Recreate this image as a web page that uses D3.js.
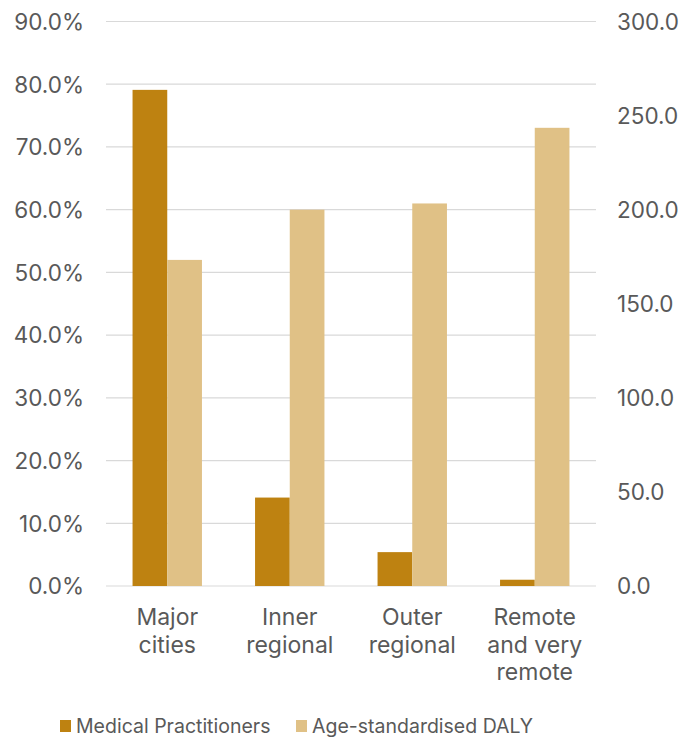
<!DOCTYPE html>
<html>
<head>
<meta charset="utf-8">
<script src="https://cdn.jsdelivr.net/npm/d3@7"></script>
<style>
  body { margin: 0; background: #fff; }
  text { font-family: Inter, "Liberation Sans", sans-serif; fill: #595959; }
</style>
</head>
<body>
<svg width="699" height="737"></svg>
<script>
const categories = [['Major', 'cities'], ['Inner', 'regional'], ['Outer', 'regional'], ['Remote', 'and very', 'remote']]
const practitioners = [0.791, 0.141, 0.054, 0.010]
const daly = [173.3, 200.0, 203.3, 243.5]
const seriesNames = ['Medical Practitioners', 'Age-standardised DALY']
const colors = ['#BE8211', '#E0C186']

const svg = d3.select('svg')
const x0 = 106, x1 = 596, yTop = 21.5, yBottom = 586

const x = d3.scaleBand().domain(d3.range(categories.length)).range([x0, x1])
const yLeft = d3.scaleLinear().domain([0, 0.9]).range([yBottom, yTop])
const yRight = d3.scaleLinear().domain([0, 300]).range([yBottom, yTop])

// gridlines
svg.append('g')
  .selectAll('line')
  .data(yLeft.ticks(9))
  .join('line')
  .attr('x1', x0).attr('x2', x1)
  .attr('y1', d => yLeft(d)).attr('y2', d => yLeft(d))
  .attr('stroke', '#d9d9d9').attr('stroke-width', 1.2)

// left axis
const leftAxis = svg.append('g')
  .attr('transform', `translate(${x0 - 22},0)`)
  .call(d3.axisLeft(yLeft).tickValues(d3.range(0, 0.91, 0.1)).tickFormat(d3.format('.1%')).tickSize(0).tickPadding(0))
leftAxis.select('.domain').remove()
leftAxis.selectAll('text').attr('font-size', 22.5).attr('fill', '#595959').attr('dy', '0.35em')

// right axis
const rightAxis = svg.append('g')
  .attr('transform', `translate(${x1 + 21},0)`)
  .call(d3.axisRight(yRight).tickValues(d3.range(0, 301, 50)).tickFormat(d3.format('.1f')).tickSize(0).tickPadding(0))
rightAxis.select('.domain').remove()
rightAxis.selectAll('text').attr('font-size', 22.5).attr('fill', '#595959').attr('dy', '0.35em')

// bars
const barW = 34.7
const groups = svg.append('g')
  .selectAll('g')
  .data(categories.map((c, i) => i))
  .join('g')
  .attr('transform', i => `translate(${x(i) + x.bandwidth() / 2},0)`)

groups.append('rect')
  .attr('x', -barW).attr('width', barW)
  .attr('y', i => yLeft(practitioners[i]))
  .attr('height', i => yBottom - yLeft(practitioners[i]))
  .attr('fill', colors[0])

groups.append('rect')
  .attr('x', 0).attr('width', barW)
  .attr('y', i => yRight(daly[i]))
  .attr('height', i => yBottom - yRight(daly[i]))
  .attr('fill', colors[1])

// category labels
groups.append('text')
  .attr('text-anchor', 'middle')
  .attr('font-size', 23)
  .selectAll('tspan')
  .data(i => categories[i])
  .join('tspan')
  .attr('x', 0)
  .attr('y', (d, j) => 625 + j * 27.5)
  .text(d => d)

// legend
const legendX = [60, 296]
const legend = svg.append('g')
  .selectAll('g')
  .data(seriesNames)
  .join('g')
  .attr('transform', (d, i) => `translate(${legendX[i]},726)`)
legend.append('rect')
  .attr('x', 0).attr('y', -6).attr('width', 11).attr('height', 12)
  .attr('fill', (d, i) => colors[i])
legend.append('text')
  .attr('x', 16).attr('dy', '0.35em')
  .attr('font-size', 19.5)
  .text(d => d)
</script>
</body>
</html>
